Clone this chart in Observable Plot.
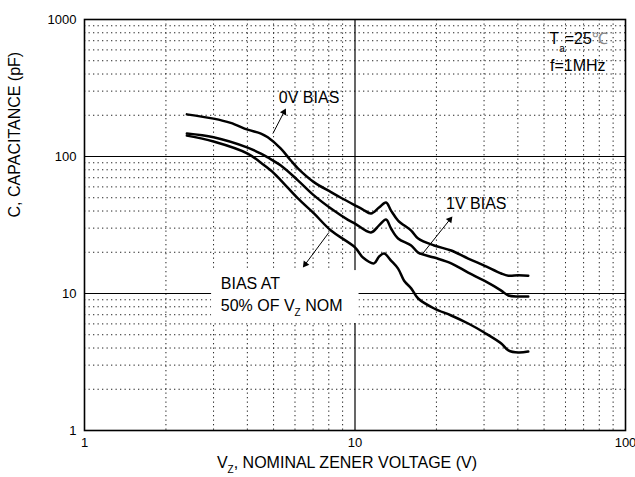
<!DOCTYPE html>
<html>
<head>
<meta charset="utf-8">
<script src="https://cdn.jsdelivr.net/npm/d3@7"></script>
<script src="https://cdn.jsdelivr.net/npm/@observablehq/plot@0.6"></script>
<style>
  body { margin: 0; background: #fff; }
</style>
</head>
<body>
<div id="chart"></div>
<script>
// ---- Data ----
// Zener voltage (V) and capacitance (pF) for each bias curve
const bias0V_vz = [2.39, 3.00, 3.47, 4.01, 4.49, 4.76, 5.32, 5.79, 6.15, 7.05, 8.15, 8.87, 10.0, 10.7, 11.46, 12.27, 13.02, 13.59, 14.43, 16.13, 17.12, 19.62, 22.68, 26.21, 30.04, 34.73, 36.9, 40.2, 43.7];
const bias0V_c  = [203, 189, 176, 157, 147, 138, 114, 93.5, 82, 65, 55, 50, 44, 41, 38.4, 42.4, 46.2, 40.3, 34.1, 28.8, 25.2, 22.4, 20.6, 18.0, 16.0, 14.0, 13.5, 13.6, 13.5];

const bias1V_vz = [2.39, 3.00, 4.01, 4.49, 4.76, 5.32, 6.15, 7.05, 8.15, 9.42, 10.0, 11.46, 12.27, 13.02, 13.59, 14.43, 16.13, 17.12, 19.62, 22.68, 26.21, 30.04, 34.73, 36.9, 40.2, 43.7];
const bias1V_c  = [147, 138, 116, 105, 98.5, 86, 67, 52, 41.7, 34.5, 32.4, 27.9, 31.4, 34.7, 29.8, 25.2, 22.4, 19.9, 18.3, 16.6, 14.2, 12.4, 10.5, 9.67, 9.51, 9.51];

const bias50_vz = [2.39, 3.00, 4.01, 4.49, 4.89, 5.32, 6.15, 7.05, 8.15, 10.0, 10.7, 11.76, 12.27, 12.81, 13.59, 14.43, 15.19, 16.13, 17.12, 19.62, 22.68, 26.21, 30.04, 34.73, 36.9, 40.2, 43.7];
const bias50_c  = [142, 128.6, 105, 90, 79, 67, 49.4, 38.4, 28.8, 21.7, 18.3, 16.6, 18.6, 19.6, 17.4, 15.2, 12.4, 10.9, 9.19, 7.77, 6.91, 6.04, 5.19, 4.32, 3.84, 3.71, 3.77];

// Axes
const xTicks = [1, 10, 100];
const yTicks = [1, 10, 100, 1000];
const minorSteps = [2, 3, 4, 5, 6, 7, 8, 9];
const xDecades = [1, 10];
const yDecades = [1, 10, 100];
const xMajorGrid = [10];
const yMajorGrid = [10, 100];

// Annotation texts (positions in data units)
const labelText = ["0V BIAS", "1V BIAS", "BIAS AT", "50% OF V{Z} NOM", "T[a]=25<℃>", "f=1MHz"];
const labelX    = [5.23, 21.7, 3.19, 3.19, 52.3, 52.6];
const labelY    = [270, 45.4, 11.8, 8.17, 727, 462];

const arrowFromX = [4.97, 17.7, 8.01];
const arrowFromY = [147, 19.3, 27.9];
const arrowToX   = [5.55, 22.9, 6.42];
const arrowToY   = [224, 36.5, 15.5];

// white backing box behind the "BIAS AT 50% OF VZ NOM" note
const boxX = [2.95, 10.35];
const boxY = [6.04, 14.7];

const xTitle = "V{Z}, NOMINAL ZENER VOLTAGE (V)";
const yTitle = "C, CAPACITANCE (pF)";
const xTitleAt = 9.34;
const yTitleAt = 35.9;

// ---- Build tables ----
const series = [
  {name: "0V", vz: bias0V_vz, c: bias0V_c},
  {name: "1V", vz: bias1V_vz, c: bias1V_c},
  {name: "50%", vz: bias50_vz, c: bias50_c}
];
const rows = series.flatMap(s => s.vz.map((v, i) => ({series: s.name, vz: v, c: s.c[i]})));
const minorX = xDecades.flatMap(d => minorSteps.map(k => k * d));
const minorY = yDecades.flatMap(d => minorSteps.map(k => k * d));
const labels = labelText.map((t, i) => ({text: t, x: labelX[i], y: labelY[i]}));
const arrows = arrowFromX.map((_, i) => ({x1: arrowFromX[i], y1: arrowFromY[i], x2: arrowToX[i], y2: arrowToY[i]}));
const boxes = [{x1: boxX[0], x2: boxX[1], y1: boxY[0], y2: boxY[1]}];

const dots = {stroke: "#222", strokeDasharray: "1.3,3.2", strokeWidth: 1};

function build(shafts, heads) {
  return Plot.plot({
    width: 635,
    height: 477,
    marginLeft: 84,
    marginRight: 10,
    marginTop: 19,
    marginBottom: 47,
    style: {fontFamily: "'Liberation Sans', Arial, sans-serif", fontSize: "13px", color: "#000", background: "#fff"},
    x: {type: "log", domain: [1, 100]},
    y: {type: "log", domain: [1, 1000]},
    marks: [
      Plot.ruleX(minorX, dots),
      Plot.ruleY(minorY, dots),
      Plot.ruleX(xMajorGrid, {stroke: "#000", strokeWidth: 1.2}),
      Plot.ruleY(yMajorGrid, {stroke: "#000", strokeWidth: 1.2}),
      Plot.rect(boxes, {x1: "x1", x2: "x2", y1: "y1", y2: "y2", fill: "#fff"}),
      Plot.frame({stroke: "#000", strokeWidth: 1.6}),
      Plot.axisX(xTicks, {tickSize: 0, tickPadding: 7, fontSize: 13, label: null, tickFormat: d => String(d)}),
      Plot.axisY(yTicks, {tickSize: 0, tickPadding: 8, fontSize: 13, label: null, tickFormat: d => String(d)}),
      Plot.line(rows, {x: "vz", y: "c", z: "series", curve: "catmull-rom", stroke: "#000", strokeWidth: 2.5}),
      Plot.link(shafts, {x1: "x1", y1: "y1", x2: "x2", y2: "y2", stroke: "#000", strokeWidth: 1}),
      Plot.dot(heads, {x: "x", y: "y", rotate: "angle", symbol: "triangle", r: 2.6, fill: "#000", stroke: null}),
      Plot.text(labels, {x: "x", y: "y", text: "text", textAnchor: "start", fontSize: 16, fill: "#000"}),
      Plot.text([yTitle], {frameAnchor: "left", y: () => yTitleAt, text: d => d, rotate: -90, dx: -70, fontSize: 16}),
      Plot.text([xTitle], {frameAnchor: "bottom", x: () => xTitleAt, text: d => d, dy: 37, fontSize: 16})
    ]
  });
}

// first pass to get the scales, then place filled arrowheads in screen-space direction
const probe = build([], []);
const sx = probe.scale("x"), sy = probe.scale("y");
const shafts = [], heads = [];
arrows.forEach(a => {
  const px1 = sx.apply(a.x1), py1 = sy.apply(a.y1), px2 = sx.apply(a.x2), py2 = sy.apply(a.y2);
  const len = Math.hypot(px2 - px1, py2 - py1), ux = (px2 - px1) / len, uy = (py2 - py1) / len;
  const cx = px2 - ux * 4, cy = py2 - uy * 4;
  const hx = sx.invert(cx), hy = sy.invert(cy);
  shafts.push({x1: a.x1, y1: a.y1, x2: hx, y2: hy});
  heads.push({x: hx, y: hy, angle: Math.atan2(ux, -uy) * 180 / Math.PI});
});
const chart = build(shafts, heads);

// subscripts {..} / [..] and grey <..> segments as real tspans
const NS = "http://www.w3.org/2000/svg";
chart.querySelectorAll("text").forEach(el => {
  const t = el.textContent;
  if (!/[{<\[]/.test(t)) return;
  while (el.firstChild) el.removeChild(el.firstChild);
  let shift = 0;
  t.split(/(\{[^}]*\}|\[[^\]]*\]|<[^>]*>)/).filter(p => p).forEach(p => {
    const ts = document.createElementNS(NS, "tspan");
    if (p[0] === "{" || p[0] === "[") {
      ts.textContent = p.slice(1, -1);
      ts.setAttribute("font-size", "10");
      shift = p[0] === "{" ? 5 : 8;
      ts.setAttribute("dy", String(shift));
    } else {
      if (p[0] === "<") { ts.textContent = p.slice(1, -1); ts.setAttribute("fill", "#888"); }
      else ts.textContent = p;
      if (shift) { ts.setAttribute("dy", String(-shift)); shift = 0; }
    }
    el.appendChild(ts);
  });
});

document.getElementById("chart").appendChild(chart);
</script>
</body>
</html>
